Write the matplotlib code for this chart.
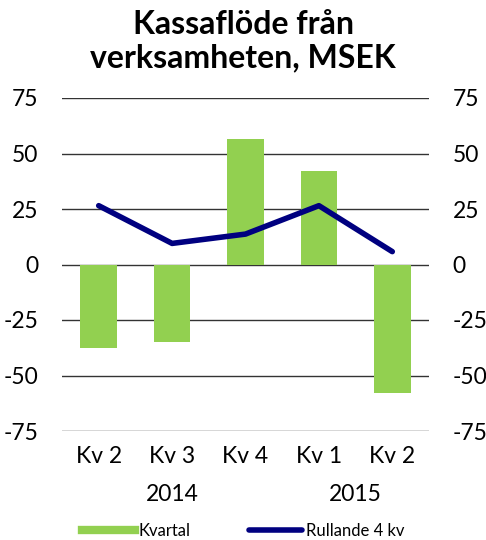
import numpy as np
import matplotlib
matplotlib.use('Agg')
import matplotlib.pyplot as plt
from matplotlib.lines import Line2D

quarters = ['Kv 2', 'Kv 3', 'Kv 4', 'Kv 1', 'Kv 2']
years = ['2014', '2015']
kvartal = [-37.5, -34.8, 56.5, 42.0, -57.7]
rullande = [26.5, 9.5, 13.7, 26.5, 5.8]
yticks = [-75, -50, -25, 0, 25, 50, 75]

green = '#92d050'
navy = '#000080'

plt.rcParams['font.family'] = ['Lato', 'DejaVu Sans']

fig = plt.figure(figsize=(4.86, 5.4), dpi=100)
ax = fig.add_axes([62/486, (540-431)/540, (429-62)/486, (431-98)/540])

x = np.arange(len(quarters))
for t in yticks:
    ax.axhline(t, color='#333333', lw=1, zorder=1)
ax.bar(x, kvartal, width=0.5, color=green, zorder=2)
ax.plot(x, rullande, color=navy, lw=4, solid_capstyle='round', zorder=3)

ax.set_xlim(-0.5, 4.5)
ax.set_ylim(-75, 75)
ax.set_yticks(yticks)
ax.set_yticklabels([str(t) for t in yticks], fontsize=16.5)
ax.tick_params(axis='y', length=0, pad=17, labelright=True, right=False)
ax.set_xticks(x)
ax.set_xticklabels(quarters, fontsize=16.5)
ax.tick_params(axis='x', length=0, pad=11)
for s in ax.spines.values():
    s.set_visible(False)

# year labels under the quarters
ax.text(1, -0.19, years[0], transform=ax.get_xaxis_transform(), ha='center', va='center', fontsize=16.5)
ax.text(3.5, -0.19, years[1], transform=ax.get_xaxis_transform(), ha='center', va='center', fontsize=16.5)

fig.suptitle('Kassaflöde från\nverksamheten, MSEK', fontsize=23, fontweight='bold',
             y=0.982, va='top', linespacing=1.2)

handles = [Line2D([0], [0], color=green, lw=6),
           Line2D([0], [0], color=navy, lw=4, solid_capstyle='round')]
fig.legend(handles, ['Kvartal', 'Rullande 4 kv'], loc='lower center',
           bbox_to_anchor=(0.5, -0.025), ncol=2, frameon=False, fontsize=12,
           handlelength=3.2, handletextpad=0.2, columnspacing=3.5)

fig.savefig('out.png', dpi=100)
